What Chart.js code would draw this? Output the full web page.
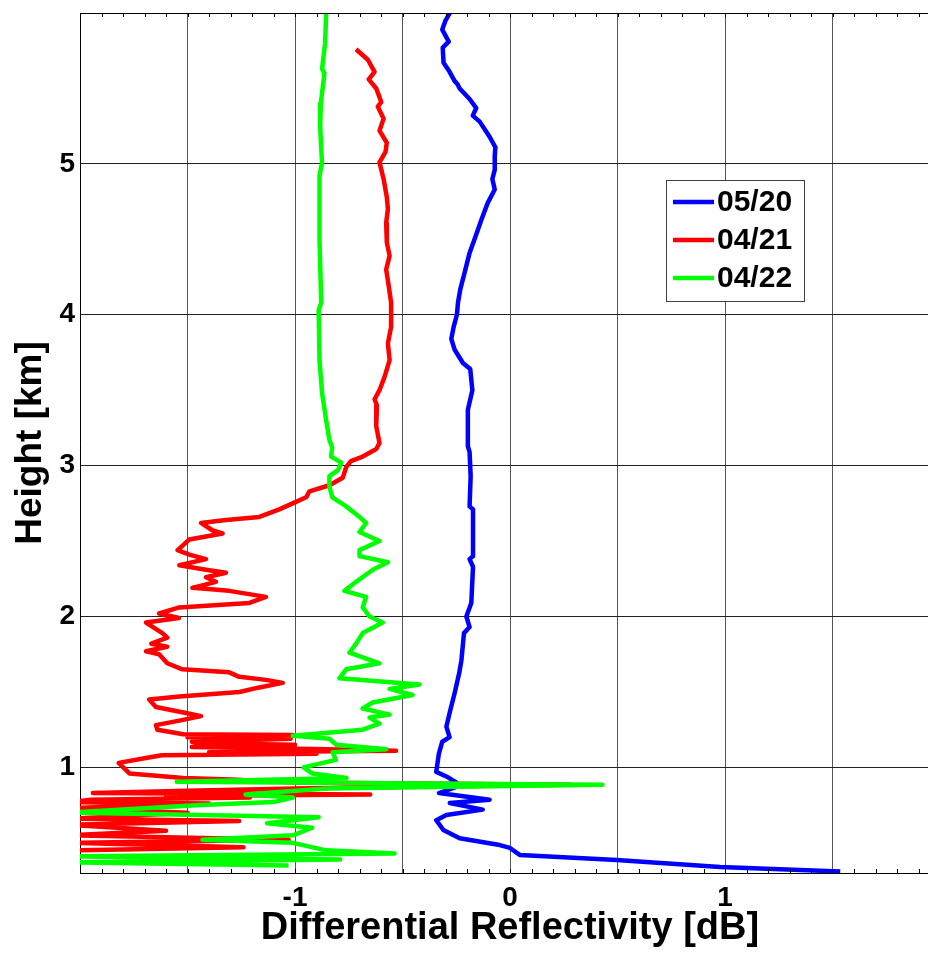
<!DOCTYPE html>
<html>
<head>
<meta charset="utf-8">
<script src="https://cdn.jsdelivr.net/npm/chart.js@4/dist/chart.umd.min.js"></script>
<style>
  html, body { margin: 0; padding: 0; background: #fff; }
  #frame { width: 928px; height: 953px; overflow: hidden; position: relative; }
  #wrap { width: 940px; height: 953px; position: absolute; left: 0; top: 0; }
</style>
</head>
<body>
<div id="frame"><div id="wrap"><canvas id="chart"></canvas></div></div>
<script>
// Profiles: height [km] and Zdr [dB], top to bottom
const height0520 = [6.00, 5.95, 5.89, 5.81, 5.77, 5.67, 5.61, 5.55, 5.53, 5.50, 5.43, 5.37, 5.32, 5.28, 5.18, 5.11, 5.05, 4.96, 4.90, 4.83,
  4.74, 4.63, 4.52, 4.41, 4.28, 4.17, 4.08, 4.00, 3.92, 3.84, 3.77, 3.68, 3.64, 3.50, 3.37, 3.13, 3.09, 2.93, 2.73, 2.71,
  2.40, 2.38, 2.33, 2.09, 2.00, 1.93, 1.89, 1.71, 1.62, 1.49, 1.36, 1.27, 1.20, 1.17, 1.09, 0.97, 0.94, 0.90, 0.87, 0.83,
  0.785, 0.764, 0.72, 0.685, 0.65, 0.585, 0.53, 0.485, 0.466, 0.42, 0.386, 0.34, 0.31];
const zdr0520 = [-0.28, -0.30, -0.315, -0.285, -0.313, -0.309, -0.281, -0.258, -0.245, -0.234, -0.188, -0.157, -0.173, -0.141, -0.095, -0.068, -0.071, -0.071, -0.082, -0.071,
  -0.104, -0.133, -0.160, -0.188, -0.211, -0.231, -0.242, -0.247, -0.262, -0.273, -0.258, -0.219, -0.185, -0.175, -0.196, -0.196, -0.188, -0.183, -0.188, -0.172,
  -0.172, -0.188, -0.172, -0.180, -0.203, -0.188, -0.214, -0.226, -0.237, -0.258, -0.281, -0.296, -0.281, -0.315, -0.331, -0.343, -0.296, -0.250, -0.250, -0.330,
  -0.095, -0.280, -0.127, -0.296, -0.343, -0.310, -0.234, -0.048, 0.0, 0.045, 0.496, 0.977, 1.536];

const height0421 = [5.76, 5.69, 5.61, 5.56, 5.50, 5.41, 5.38, 5.30, 5.22, 5.14, 5.08, 5.01, 4.90, 4.78, 4.70, 4.61, 4.48, 4.39, 4.30, 4.19,
  4.08, 3.92, 3.81, 3.70, 3.59, 3.50, 3.44, 3.40, 3.26, 3.15, 3.11, 3.06, 3.03, 2.99, 2.92, 2.87, 2.83, 2.79, 2.75, 2.71,
  2.66, 2.64, 2.62, 2.57, 2.55, 2.51, 2.44, 2.41, 2.38, 2.34, 2.31, 2.29, 2.26, 2.23, 2.19, 2.17, 2.13, 2.09, 2.06, 2.02,
  1.99, 1.96, 1.89, 1.86, 1.82, 1.80, 1.77, 1.75, 1.69, 1.65, 1.63, 1.60, 1.58, 1.56, 1.53, 1.50, 1.47, 1.45, 1.40, 1.36,
  1.34, 1.31, 1.28, 1.25, 1.22, 1.215, 1.20, 1.19, 1.17, 1.16, 1.15, 1.135, 1.12, 1.11, 1.10, 1.09, 1.08, 1.06, 1.03, 0.96,
  0.93, 0.92, 0.90, 0.885, 0.875, 0.86, 0.845, 0.83, 0.82, 0.81, 0.80, 0.785, 0.77, 0.76, 0.73, 0.70, 0.66, 0.645, 0.62, 0.58,
  0.55, 0.52, 0.50, 0.47, 0.45];
const zdr0421 = [-0.716, -0.661, -0.630, -0.657, -0.622, -0.599, -0.615, -0.588, -0.607, -0.573, -0.579, -0.607, -0.588, -0.573, -0.568, -0.576, -0.573, -0.560, -0.576, -0.564,
  -0.553, -0.553, -0.568, -0.560, -0.583, -0.607, -0.630, -0.619, -0.622, -0.607, -0.622, -0.685, -0.740, -0.762, -0.778, -0.840, -0.933, -0.948, -1.011, -1.073,
  -1.166, -1.321, -1.437, -1.383, -1.337, -1.492, -1.546, -1.492, -1.414, -1.538, -1.414, -1.321, -1.414, -1.368, -1.477, -1.306, -1.135, -1.212, -1.538, -1.632,
  -1.540, -1.693, -1.617, -1.594, -1.668, -1.594, -1.693, -1.632, -1.594, -1.524, -1.306, -1.259, -1.135, -1.057, -1.166, -1.259, -1.538, -1.678, -1.647, -1.507,
  -1.437, -1.538, -1.647, -1.640, -1.520, -1.010, -1.500, -1.020, -1.480, -1.450, -1.000, -1.480, -0.850, -0.530, -1.400, -0.900, -1.620, -1.700, -1.820, -1.770,
  -1.520, -1.300, -1.000, 0.280, -0.300, -1.000, -1.500, -1.940, -0.650, -1.600, -1.210, -1.950, -2.050, -1.400, -2.050, -1.500, -2.050, -1.260, -2.050, -1.600,
  -2.050, -1.030, -2.050, -1.240, -2.050];

const height0422 = [6.00, 5.80, 5.63, 5.60, 5.40, 5.25, 5.10, 5.01, 4.92, 4.50, 4.08, 4.03, 3.70, 3.48, 3.30, 3.17, 3.12, 3.06, 3.02, 2.97,
  2.93, 2.86, 2.79, 2.73, 2.66, 2.62, 2.56, 2.50, 2.44, 2.40, 2.36, 2.31, 2.23, 2.17, 2.13, 2.06, 2.00, 1.96, 1.89, 1.82,
  1.76, 1.69, 1.65, 1.59, 1.55, 1.52, 1.48, 1.43, 1.39, 1.35, 1.33, 1.29, 1.25, 1.21, 1.19, 1.15, 1.12, 1.10, 1.05, 1.00,
  0.96, 0.93, 0.905, 0.885, 0.86, 0.82, 0.80, 0.77, 0.75, 0.70, 0.67, 0.63, 0.60, 0.55, 0.52, 0.50, 0.45, 0.43, 0.41, 0.39,
  0.37, 0.35];
const zdr0422 = [-0.855, -0.860, -0.874, -0.863, -0.880, -0.883, -0.878, -0.874, -0.886, -0.886, -0.878, -0.890, -0.886, -0.874, -0.855, -0.840, -0.827, -0.832, -0.785, -0.800,
  -0.840, -0.840, -0.826, -0.762, -0.700, -0.669, -0.700, -0.607, -0.700, -0.700, -0.568, -0.638, -0.716, -0.770, -0.669, -0.685, -0.653, -0.592, -0.685, -0.716,
  -0.747, -0.607, -0.762, -0.793, -0.421, -0.560, -0.453, -0.639, -0.685, -0.560, -0.653, -0.607, -0.685, -1.010, -0.840, -0.808, -0.576, -0.825, -0.810, -0.960,
  -0.920, -0.760, -1.550, 0.430, -0.855, -1.230, -1.010, -1.100, -1.440, -2.050, -0.890, -1.130, -0.920, -1.010, -1.430, -1.010, -0.855, -0.537, -2.050, -0.790,
  -2.050, -1.030];

const seriesLabels = ['05/20', '04/21', '04/22'];
const seriesColors = ['#0000ff', '#ff0000', '#00ff00'];

const xGridValues = [-2, -1.5, -1, -0.5, 0, 0.5, 1, 1.5, 2];
const xTickLabels = { '-1': '-1', '0': '0', '1': '1' };
const yGridValues = [1, 2, 3, 4, 5];

const FONT = '"Liberation Sans", Arial, Helvetica, sans-serif';

function toPoints(heights, values) {
  return heights.map((h, i) => ({ x: values[i], y: h }));
}

// box, top axis line, inward minor ticks (like the matlab axes)
const axesBox = {
  id: 'axesBox',
  afterDatasetsDraw(chart) {
    const { ctx, chartArea: a, scales: { x } } = chart;
    ctx.save();
    ctx.strokeStyle = '#000';
    ctx.lineWidth = 1;
    ctx.beginPath();
    ctx.moveTo(a.left, a.top + 0.5);
    ctx.lineTo(a.right, a.top + 0.5);
    for (let k = -19; k <= 19; k++) {
      const px = Math.round(x.getPixelForValue(k / 10)) + 0.5;
      ctx.moveTo(px, a.top);
      ctx.lineTo(px, a.top + 4);
      ctx.moveTo(px, a.bottom);
      ctx.lineTo(px, a.bottom - 4);
    }
    ctx.stroke();
    ctx.restore();
  }
};

const boxLegend = {
  id: 'boxLegend',
  afterDraw(chart) {
    const { ctx, chartArea: a } = chart;
    const left = a.left + 586, top = a.top + 167, w = 138, h = 121;
    ctx.save();
    ctx.fillStyle = '#fff';
    ctx.fillRect(left, top, w, h);
    ctx.strokeStyle = '#404040';
    ctx.lineWidth = 1;
    ctx.strokeRect(left + 0.5, top + 0.5, w, h);
    ctx.font = 'bold 30px ' + FONT;
    ctx.textBaseline = 'middle';
    ctx.fillStyle = '#000';
    seriesLabels.forEach((lab, i) => {
      const yy = top + 22 + i * 38;
      ctx.strokeStyle = seriesColors[i];
      ctx.lineWidth = 4.5;
      ctx.beginPath();
      ctx.moveTo(left + 7, yy);
      ctx.lineTo(left + 48, yy);
      ctx.stroke();
      ctx.fillText(lab, left + 51, yy + 1);
    });
    ctx.restore();
  }
};

new Chart(document.getElementById('chart'), {
  type: 'line',
  data: {
    datasets: [
      { label: seriesLabels[0], data: toPoints(height0520, zdr0520), borderColor: seriesColors[0], order: 2 },
      { label: seriesLabels[1], data: toPoints(height0421, zdr0421), borderColor: seriesColors[1], order: 1 },
      { label: seriesLabels[2], data: toPoints(height0422, zdr0422), borderColor: seriesColors[2], order: 0 }
    ]
  },
  options: {
    responsive: true,
    maintainAspectRatio: false,
    animation: false,
    layout: { padding: { top: 13, right: 0, bottom: 0, left: 0 } },
    datasets: { line: { clip: 0 } },
    elements: {
      point: { radius: 0, hoverRadius: 0 },
      line: { borderWidth: 4.5, tension: 0, borderJoinStyle: 'round', fill: false }
    },
    plugins: { legend: { display: false }, tooltip: { enabled: false } },
    scales: {
      x: {
        type: 'linear',
        min: -2,
        max: 2,
        afterBuildTicks: s => { s.ticks = xGridValues.map(v => ({ value: v })); },
        afterFit: s => { s.height = 80; s.paddingLeft = 0; s.paddingRight = 0; },
        ticks: {
          callback: v => xTickLabels[String(v)] || '',
          autoSkip: false,
          maxRotation: 0,
          padding: 8,
          color: '#000',
          font: { family: FONT, size: 28, weight: 'bold' }
        },
        grid: { color: '#555', lineWidth: 1, drawTicks: false },
        border: { display: true, color: '#000', width: 1 },
        title: {
          display: true,
          text: 'Differential Reflectivity [dB]',
          color: '#000',
          padding: { top: 0, bottom: 2 },
          font: { family: FONT, size: 38, weight: 'bold' }
        }
      },
      y: {
        type: 'linear',
        min: 0.3,
        max: 6.0,
        afterBuildTicks: s => { s.ticks = yGridValues.map(v => ({ value: v })); },
        afterFit: s => { s.width = 80; s.paddingTop = 0; s.paddingBottom = 0; },
        ticks: {
          padding: 5,
          color: '#000',
          font: { family: FONT, size: 28, weight: 'bold' }
        },
        grid: { color: '#222', lineWidth: 1, drawTicks: false },
        border: { display: true, color: '#000', width: 1 },
        title: {
          display: true,
          text: 'Height [km]',
          color: '#000',
          padding: { top: 9, bottom: 0 },
          font: { family: FONT, size: 37, weight: 'bold' }
        }
      }
    }
  },
  plugins: [axesBox, boxLegend]
});
</script>
</body>
</html>
